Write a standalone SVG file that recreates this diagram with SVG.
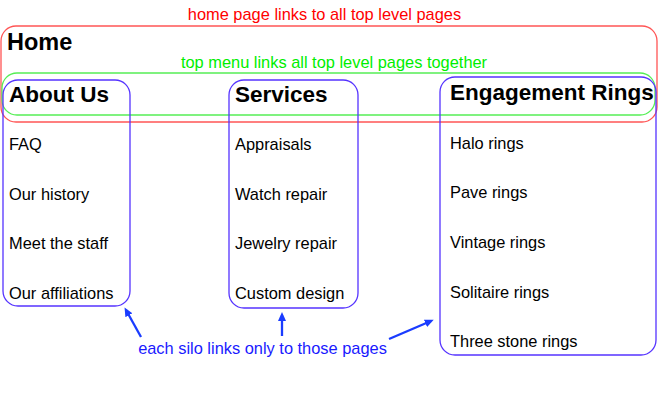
<svg xmlns="http://www.w3.org/2000/svg" width="660" height="409" viewBox="0 0 660 409">
<style>
text{font-family:"Liberation Sans",Arial,sans-serif}
.h{font-size:22.5px;font-weight:bold;fill:#000}
.i{font-size:16.4px;fill:#000}
.silo{fill:none;stroke:#5533ff;stroke-width:1.3}
.arr{stroke:#1a3cff;stroke-width:2.3;fill:none;marker-end:url(#ah)}
</style>
<defs>
<marker id="ah" markerWidth="9" markerHeight="8" refX="6" refY="4" orient="auto" markerUnits="userSpaceOnUse">
<path d="M0,0 L9,4 L0,8 z" fill="#1a3cff"/>
</marker>
</defs>
<rect width="660" height="409" fill="#fff"/>
<g id="home">
<rect x="1" y="26" width="656" height="96" rx="15" fill="none" stroke="#ff5555" stroke-width="1.3"/>
<text x="7" y="50" class="h" style="font-size:23.5px">Home</text>
<text x="324.5" y="20" text-anchor="middle" style="font-size:16.4px;fill:#ff0000">home page links to all top level pages</text>
</g>
<g id="topmenu">
<rect x="2" y="73" width="653" height="42" rx="15" fill="none" stroke="#55ee55" stroke-width="1.3"/>
<text x="334" y="68" text-anchor="middle" style="font-size:16.4px;fill:#00ee00">top menu links all top level pages together</text>
</g>
<g id="about">
<rect x="3" y="80" width="127" height="226" rx="15" class="silo"/>
<text x="9" y="102" class="h">About Us</text>
<text x="9" y="150" class="i">FAQ</text>
<text x="9" y="200" class="i">Our history</text>
<text x="9" y="249" class="i">Meet the staff</text>
<text x="9" y="299" class="i">Our affiliations</text>
</g>
<g id="services">
<rect x="229" y="80" width="129" height="228" rx="15" class="silo"/>
<text x="235" y="102" class="h">Services</text>
<text x="235" y="150" class="i">Appraisals</text>
<text x="235" y="200" class="i">Watch repair</text>
<text x="235" y="249" class="i">Jewelry repair</text>
<text x="235" y="299" class="i">Custom design</text>
</g>
<g id="rings">
<rect x="440" y="77" width="216" height="278" rx="15" class="silo"/>
<text x="450" y="100" class="h">Engagement Rings</text>
<text x="450" y="149" class="i">Halo rings</text>
<text x="450" y="198" class="i">Pave rings</text>
<text x="450" y="248" class="i">Vintage rings</text>
<text x="450" y="298" class="i">Solitaire rings</text>
<text x="450" y="347" class="i">Three stone rings</text>
</g>
<g id="note">
<text x="262.5" y="354" text-anchor="middle" style="font-size:16.4px;fill:#1a1aff">each silo links only to those pages</text>
</g>
<g id="connectors">
<line x1="141" y1="337" x2="126" y2="310" class="arr"/>
<line x1="282" y1="336" x2="282" y2="315" class="arr"/>
<line x1="389" y1="339" x2="431" y2="321" class="arr"/>
</g>
</svg>
